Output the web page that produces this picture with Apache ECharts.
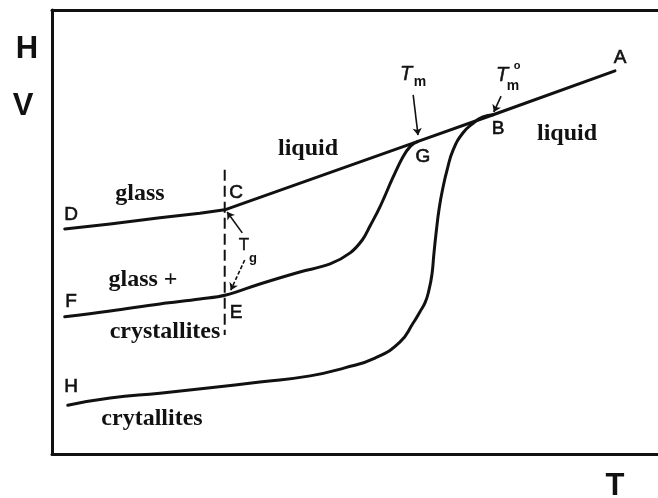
<!DOCTYPE html>
<html>
<head>
<meta charset="utf-8">
<script src="https://cdn.jsdelivr.net/npm/echarts@6/dist/echarts.min.js"></script>
<style>
  html, body { margin: 0; padding: 0; background: #fff; }
  #chart { width: 658px; height: 498px; }
</style>
</head>
<body>
<div id="chart"></div>
<script>
// Enthalpy / volume against temperature (schematic units, 0–100 on both axes)

// D – C (glass) continuing as the liquid line through G and B to A
const upperT = [2.1, 9.6, 17.8, 24.4, 28.5, 60.4, 72.8, 92.9];
const upperH = [50.7, 51.8, 53.2, 54.2, 55.0, 70.4, 76.4, 86.3];

// F – E (glass + crystallites) rising to G
const middleT = [2.1, 9.6, 17.8, 24.4, 28.7, 34.3, 40.9, 45.9, 49.2, 51.2, 52.5, 54.1, 56.3, 57.9, 59.2, 60.4];
const middleH = [30.9, 32.2, 33.8, 34.9, 35.8, 38.3, 41.0, 42.8, 45.3, 48.2, 51.4, 55.6, 62.4, 66.9, 69.4, 70.4];

// H (crystallites) rising to B
const lowerT = [2.6, 9.6, 17.8, 26.1, 34.3, 42.6, 48.3, 53.3, 57.4, 59.6, 60.7, 61.6, 62.2, 62.7, 63.0, 63.4, 63.9, 64.5, 65.2, 66.2, 67.8, 69.5, 71.1, 72.8];
const lowerH = [11.0, 12.6, 13.7, 14.9, 16.2, 17.6, 19.4, 21.6, 25.2, 29.5, 32.0, 34.2, 36.9, 40.5, 44.8, 50.0, 55.4, 59.9, 64.0, 68.5, 72.3, 74.5, 75.9, 76.4];

// glass transition marker (vertical dashed line at Tg)
const tgT = [28.5, 28.5];
const tgH = [64.0, 26.8];

// pointer arrows: [fromT, fromH, toT, toH]
const arrowTgC = [31.4, 49.8, 28.9, 54.5];
const arrowTgE = [31.8, 43.7, 29.5, 36.9];
const arrowTm = [59.6, 80.9, 60.4, 71.8];
const arrowTm0 = [74.1, 80.6, 72.9, 77.0];

const zip = (xs, ys) => xs.map((x, i) => [x, ys[i]]);
const arrow = (a, dashed) => ({
  type: 'lines',
  coordinateSystem: 'cartesian2d',
  silent: true,
  symbol: ['none', 'arrow'],
  symbolSize: 7,
  lineStyle: { color: '#111', width: 1.6, type: dashed ? [4, 2] : 'solid', opacity: 1 },
  data: [{ coords: [[a[0], a[1]], [a[2], a[3]]] }]
});

const curve = (data, smooth) => ({
  type: 'line',
  data: data,
  smooth: smooth,
  symbol: 'none',
  silent: true,
  lineStyle: { color: '#111', width: 3, cap: 'round', join: 'round' }
});

const sans = (size, weight) => (weight || 'normal') + ' ' + size + 'px "Liberation Sans", Arial, sans-serif';
const serif = 'bold 24px "Liberation Serif", "Times New Roman", serif';
const txt = (text, x, y, font, stroke) => ({
  type: 'text', x: x, y: y, silent: true,
  style: {
    text: text, font: font, fill: '#111', align: 'center', verticalAlign: 'middle',
    stroke: stroke ? '#111' : null, lineWidth: stroke || 0
  }
});

const chart = echarts.init(document.getElementById('chart'), null, { renderer: 'canvas' });
const axisLine = { show: true, onZero: false, lineStyle: { color: '#111', width: 3 } };
const bare = { axisTick: { show: false }, axisLabel: { show: false }, splitLine: { show: false } };

chart.setOption({
  backgroundColor: '#fff',
  animation: false,
  grid: { left: 52, right: 0, top: 10, bottom: 44 },
  xAxis: [
    Object.assign({ type: 'value', min: 0, max: 100, position: 'bottom', axisLine: axisLine }, bare),
    Object.assign({ type: 'value', min: 0, max: 100, position: 'top', axisLine: axisLine }, bare)
  ],
  yAxis: [
    Object.assign({ type: 'value', min: 0, max: 100, position: 'left', axisLine: axisLine }, bare)
  ],
  series: [
    curve(zip(upperT, upperH), false),
    curve(zip(middleT, middleH), 0.4),
    curve(zip(lowerT, lowerH), 0.5),
    {
      type: 'line', data: zip(tgT, tgH), symbol: 'none', silent: true,
      lineStyle: { color: '#111', width: 2, type: [11, 5] }
    },
    arrow(arrowTgC, false),
    arrow(arrowTgE, true),
    arrow(arrowTm, false),
    arrow(arrowTm0, false)
  ],
  graphic: [
    // axis titles
    txt('H', 27, 49, sans(31, 'bold')),
    txt('V', 23, 106, sans(31, 'bold')),
    txt('T', 615, 486, sans(31, 'bold')),
    // point letters
    txt('D', 71, 215, sans(19), 0.6),
    txt('C', 236, 193, sans(19), 0.6),
    txt('F', 71, 302, sans(19), 0.6),
    txt('E', 236, 313, sans(19), 0.6),
    txt('H', 71, 387, sans(19), 0.6),
    txt('G', 423, 157, sans(19), 0.6),
    txt('B', 498, 129, sans(19), 0.6),
    txt('A', 620, 58, sans(19), 0.6),
    // region names
    txt('glass', 140, 194, serif),
    txt('liquid', 308, 149, serif),
    txt('liquid', 567, 134, serif),
    txt('glass +', 143, 280, serif),
    txt('crystallites', 165, 332, serif),
    txt('crytallites', 152, 419, serif),
    // temperature symbols
    txt('T', 406, 74, sans(20, 'italic'), 0.5),
    txt('m', 420, 82, sans(14, 'bold')),
    txt('T', 502, 75, sans(20, 'italic'), 0.5),
    txt('m', 513, 86, sans(14, 'bold')),
    txt('o', 517, 66, sans(11, 'bold')),
    txt('T', 244, 245, sans(17), 0.4),
    txt('g', 253, 258, sans(13, 'bold'))
  ]
});
</script>
</body>
</html>
